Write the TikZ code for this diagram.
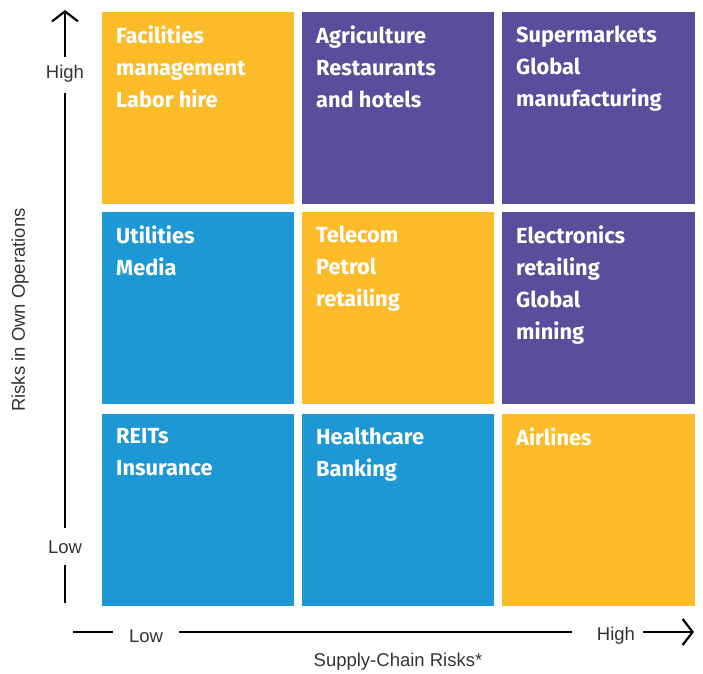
\documentclass[tikz,border=0pt]{standalone}
\usepackage{fontspec}
\setmainfont{Liberation Sans}
\newfontfamily\cellfont{Fira Sans}
\usetikzlibrary{arrows.meta,positioning}

\definecolor{riskyellow}{HTML}{FCBB29}
\definecolor{riskpurple}{HTML}{5A4D9C}
\definecolor{riskblue}{HTML}{1D98D5}

\tikzset{
  cell/.style={inner sep=0pt, anchor=north west, align=left, text=white,
    font=\cellfont\bfseries\fontsize{21.8}{32}\selectfont},
  axislabel/.style={text=black!80, font=\fontsize{18.5}{20}\selectfont, inner sep=0pt},
  axis/.style={line width=2.2pt, black},
  axistip/.style={-{Straight Barb[length=10pt,width=26pt,line width=2.2pt]}}
}

\begin{document}
\begin{tikzpicture}[x=1pt,y=-1pt]
\useasboundingbox (0,0) rectangle (703,673);

% the nine cells
\fill[riskyellow] (102,12)  rectangle (294,204);
\fill[riskpurple] (302,12)  rectangle (494,204);
\fill[riskpurple] (502,12)  rectangle (695,204);
\fill[riskblue]   (102,212) rectangle (294,404);
\fill[riskyellow] (302,212) rectangle (494,404);
\fill[riskpurple] (502,212) rectangle (695,404);
\fill[riskblue]   (102,414) rectangle (294,606);
\fill[riskblue]   (302,414) rectangle (494,606);
\fill[riskyellow] (502,414) rectangle (695,606);

\node[cell] (facilities) at (116,26)  {Facilities\\management\\Labor hire};
\node[cell] (agri)       at (316,26)  {Agriculture\\Restaurants\\and hotels};
\node[cell] (supermkt)   at (516,26)  {Supermarkets\\Global\\manufacturing};
\node[cell] (utilities)  at (116,226) {Utilities\\Media};
\node[cell] (telecom)    at (316,226) {Telecom\\Petrol\\retailing};
\node[cell] (electro)    at (516,226) {Electronics\\retailing\\Global\\mining};
\node[cell] (reits)      at (116,428) {REITs\\Insurance};
\node[cell] (health)     at (316,428) {Healthcare\\Banking};
\node[cell] (airlines)   at (516,428) {Airlines};

% vertical axis
\coordinate (ytop) at (65,10);
\coordinate (ybot) at (65,603);
\node[axislabel] (yhigh) at (65,74)  {High};
\node[axislabel] (ylow)  at (65,547) {Low};
\draw[axis] (ybot) -- ([yshift=-18pt]ylow.center);
\draw[axis] ([yshift=19pt]ylow.center) -- ([yshift=-19pt]yhigh.center);
\draw[axis,axistip] ([yshift=17pt]yhigh.center) -- (ytop);
\node[axislabel, rotate=90] (ytitle) at (20,310) {Risks in Own Operations};

% horizontal axis
\coordinate (xleft)  at (73,632);
\coordinate (xright) at (694,632);
\node[axislabel] (xlow)  at (146,636) {Low};
\node[axislabel] (xhigh) at (616,636) {High};
\draw[axis] (xleft) -- ([xshift=-33pt,yshift=4pt]xlow.center);
\draw[axis] ([xshift=33pt,yshift=4pt]xlow.center) -- ([xshift=-44pt,yshift=4pt]xhigh.center);
\draw[axis,axistip] ([xshift=27pt,yshift=4pt]xhigh.center) -- (xright);
\node[axislabel] (xtitle) at (398,662) {Supply-Chain Risks*};

\end{tikzpicture}
\end{document}
